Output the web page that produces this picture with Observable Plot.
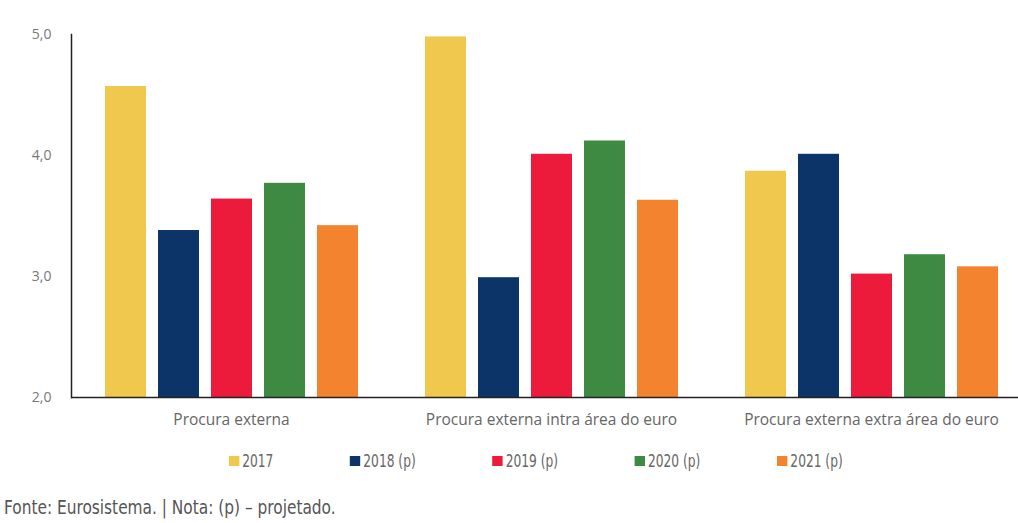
<!DOCTYPE html>
<html lang="pt">
<head>
<meta charset="utf-8">
<script src="https://cdn.jsdelivr.net/npm/d3@7"></script>
<script src="https://cdn.jsdelivr.net/npm/@observablehq/plot@0.6"></script>
<style>
  html, body { margin: 0; padding: 0; background: #fff; }
  #page { position: relative; width: 1018px; height: 523px; overflow: hidden; }
  /* condensed look: the whole legend is squeezed horizontally */
  #legend {
    position: absolute; top: 451px; left: 229px;
    display: flex; gap: 96px; align-items: center;
    transform: scaleX(0.8); transform-origin: left center;
    font-family: "Liberation Sans Narrow", "DejaVu Sans Condensed", sans-serif;
    font-size: 17px; color: #666;
  }
  #legend .item { display: flex; align-items: center; gap: 4px; white-space: nowrap; }
  #legend .swatch { width: 12.5px; height: 10px; display: inline-block; }
  #caption {
    position: absolute; top: 496px; left: 4px;
    transform: scaleX(0.9); transform-origin: left center;
    font-family: "Liberation Sans Narrow", "DejaVu Sans Condensed", sans-serif;
    font-size: 19px; color: #555; white-space: nowrap;
  }
</style>
</head>
<body>
<div id="page">
  <div id="chart"></div>
  <div id="legend"></div>
  <div id="caption">Fonte: Eurosistema. | Nota: (p) – projetado.</div>
</div>
<script>
// Taxa de variação da procura externa, por ano
const groups = [
  "Procura externa",
  "Procura externa intra área do euro",
  "Procura externa extra área do euro"
];
const years = ["2017", "2018 (p)", "2019 (p)", "2020 (p)", "2021 (p)"];
const colors = ["#F0C84E", "#0C3468", "#EC1A3B", "#3E8A42", "#F3832F"];

const values2017 = [4.57, 4.98, 3.87];
const values2018 = [3.38, 2.99, 4.01];
const values2019 = [3.64, 4.01, 3.02];
const values2020 = [3.77, 4.12, 3.18];
const values2021 = [3.42, 3.63, 3.08];

const yTicks = [2, 3, 4, 5];

const series = [values2017, values2018, values2019, values2020, values2021];
const rows = [];
groups.forEach((g, gi) => {
  years.forEach((yr, yi) => {
    rows.push({group: g, year: yr, value: series[yi][gi]});
  });
});

const fmt = d => d.toFixed(1).replace(".", ",");

const chart = Plot.plot({
  width: 1018,
  height: 440,
  marginTop: 34,
  marginBottom: 43,
  marginLeft: 70,
  marginRight: -13,
  style: {fontFamily: "'Open Sans', sans-serif", background: "transparent"},
  fx: {domain: groups, paddingInner: 0, paddingOuter: 0, label: null, axis: null},
  x: {domain: years, paddingInner: 0.235, paddingOuter: 0.6, axis: null},
  y: {domain: [2, 5], axis: null},
  color: {domain: years, range: colors},
  marks: [
    Plot.barY(rows, {fx: "group", x: "year", y1: 2, y2: "value", fill: "year"}),
    Plot.ruleY([2], {stroke: "#222", strokeWidth: 1.5}),
    Plot.frame({anchor: "left", facetAnchor: "left", stroke: "#222", strokeWidth: 1.5}),
    Plot.axisY(yTicks, {
      anchor: "left", facetAnchor: "left", tickSize: 0, tickPadding: 20,
      tickFormat: fmt, fontSize: 14, fill: "#777", label: null
    }),
    Plot.axisFx({
      anchor: "bottom", tickSize: 0, tickPadding: 16,
      fontSize: 15.5, fill: "#666", label: null
    })
  ]
});
document.getElementById("chart").appendChild(chart);

// Legenda
const legend = document.getElementById("legend");
years.forEach((yr, i) => {
  const item = document.createElement("span");
  item.className = "item";
  const sw = document.createElement("span");
  sw.className = "swatch";
  sw.style.background = colors[i];
  const label = document.createElement("span");
  label.textContent = yr;
  item.appendChild(sw);
  item.appendChild(label);
  legend.appendChild(item);
});
</script>
</body>
</html>
